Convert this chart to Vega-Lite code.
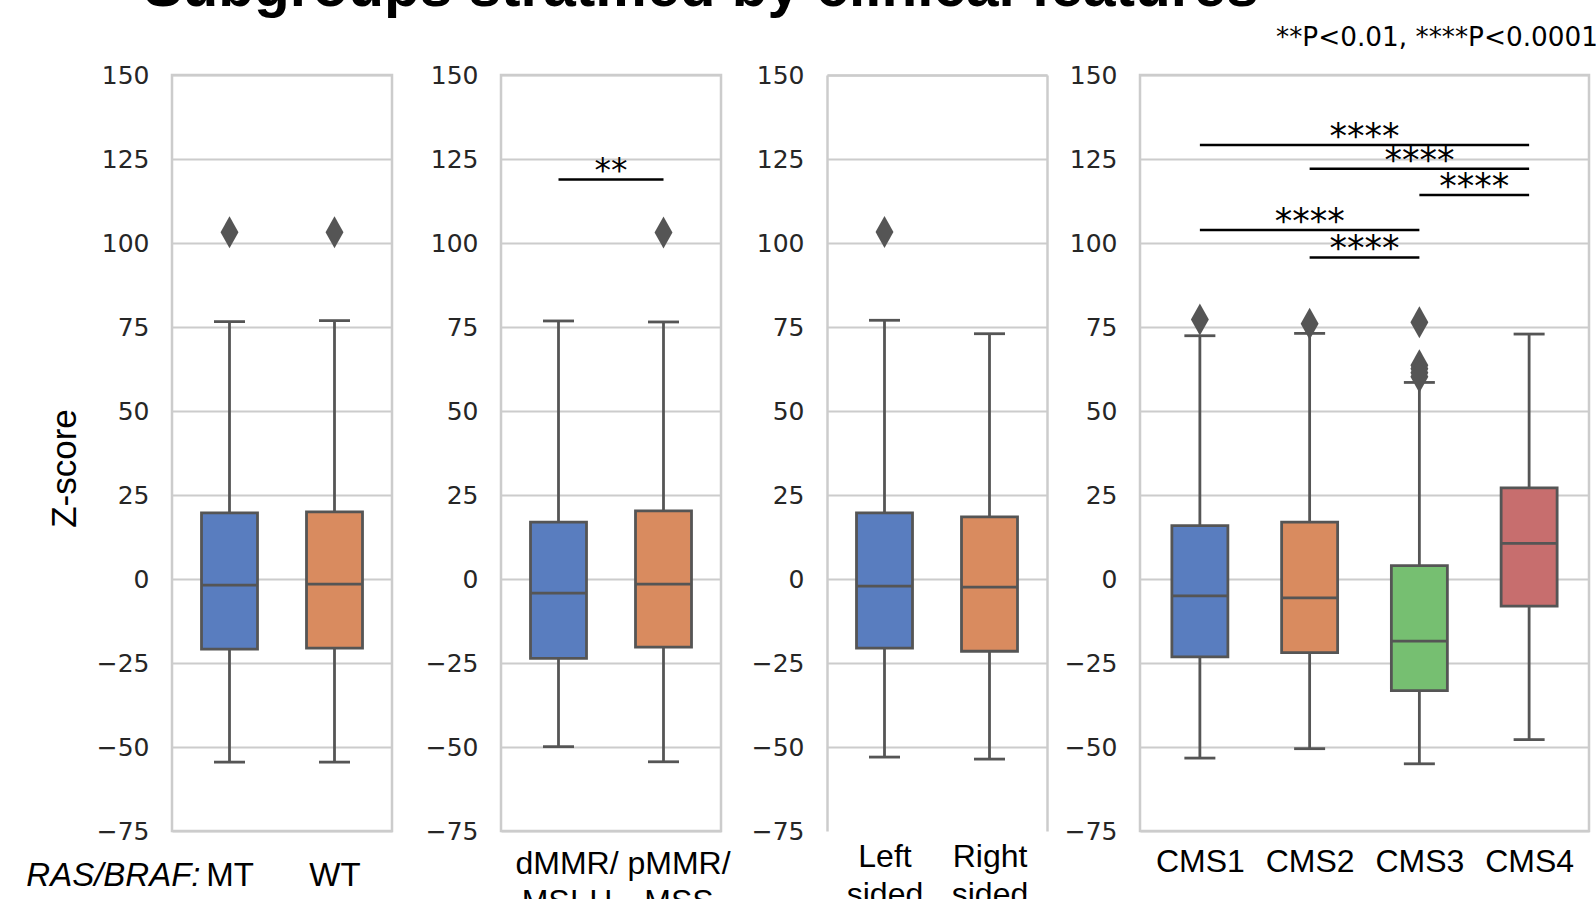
{
  "$schema": "https://vega.github.io/schema/vega-lite/v6.json",
  "background": "white",
  "padding": {"left": 24, "top": -42, "right": 0, "bottom": 0},
  "title": {"text": "Subgroups stratified by clinical features", "anchor": "start", "font": "Liberation Sans", "fontSize": 58.5, "fontWeight": "bold", "color": "black", "baseline": "alphabetic", "offset": -41, "dx": 119},
  "datasets": {
    "box": [
      {"panel": "ras", "grp": "MT", "lower": -54.5, "q1": -20.9, "median": -1.8, "q3": 19.7, "upper": 76.6},
      {"panel": "ras", "grp": "WT", "lower": -54.5, "q1": -20.6, "median": -1.5, "q3": 20.0, "upper": 76.9},
      {"panel": "mmr", "grp": "dMMR/MSI-H", "lower": -49.9, "q1": -23.6, "median": -4.2, "q3": 16.9, "upper": 76.8},
      {"panel": "mmr", "grp": "pMMR/MSS", "lower": -54.4, "q1": -20.3, "median": -1.5, "q3": 20.3, "upper": 76.5},
      {"panel": "side", "grp": "Left sided", "lower": -53.0, "q1": -20.6, "median": -2.1, "q3": 19.7, "upper": 77.0},
      {"panel": "side", "grp": "Right sided", "lower": -53.6, "q1": -21.5, "median": -2.4, "q3": 18.5, "upper": 73.0},
      {"panel": "cms", "grp": "CMS1", "lower": -53.3, "q1": -23.2, "median": -5.0, "q3": 15.9, "upper": 72.4},
      {"panel": "cms", "grp": "CMS2", "lower": -50.5, "q1": -21.9, "median": -5.6, "q3": 16.9, "upper": 73.1},
      {"panel": "cms", "grp": "CMS3", "lower": -55.0, "q1": -33.2, "median": -18.5, "q3": 4.0, "upper": 58.5},
      {"panel": "cms", "grp": "CMS4", "lower": -47.8, "q1": -8.1, "median": 10.6, "q3": 27.1, "upper": 72.9}
    ],
    "out": [
      {"panel": "ras", "grp": "MT", "z": 103.2},
      {"panel": "ras", "grp": "WT", "z": 103.2},
      {"panel": "mmr", "grp": "pMMR/MSS", "z": 103.1},
      {"panel": "side", "grp": "Left sided", "z": 103.3},
      {"panel": "cms", "grp": "CMS1", "z": 77.2},
      {"panel": "cms", "grp": "CMS2", "z": 76.0},
      {"panel": "cms", "grp": "CMS3", "z": 76.4},
      {"panel": "cms", "grp": "CMS3", "z": 63.6},
      {"panel": "cms", "grp": "CMS3", "z": 62.6},
      {"panel": "cms", "grp": "CMS3", "z": 61.4},
      {"panel": "cms", "grp": "CMS3", "z": 60.2}
    ],
    "br": [
      {"panel": "mmr", "from": "dMMR/MSI-H", "to": "pMMR/MSS", "y": 118.9, "label": "**"},
      {"panel": "cms", "from": "CMS1", "to": "CMS4", "y": 129.2, "label": "****"},
      {"panel": "cms", "from": "CMS2", "to": "CMS4", "y": 122.1, "label": "****"},
      {"panel": "cms", "from": "CMS3", "to": "CMS4", "y": 114.3, "label": "****"},
      {"panel": "cms", "from": "CMS1", "to": "CMS3", "y": 103.9, "label": "****"},
      {"panel": "cms", "from": "CMS2", "to": "CMS3", "y": 95.7, "label": "****"}
    ]
  },
  "spacing": 10,
  "resolve": {"scale": {"x": "independent", "y": "independent", "color": "independent"}},
  "hconcat": [
    {
      "width": 220, "height": 756,
      "layer": [
        {
          "data": {"name": "box"},
          "transform": [{"filter": "datum.panel === 'ras'"}, {"calculate": "indexof(['MT','WT'], datum.grp)", "as": "i"}],
          "encoding": {
            "x": {"field": "i", "type": "quantitative", "scale": {"domain": [-0.5, 1.5], "nice": false, "zero": false},
                  "axis": {"values": [0, 1], "labelExpr": "['MT','WT'][datum.value]", "labelFontSize": 33, "labelPadding": 28, "title": "RAS/BRAF:", "titleFont": "Liberation Sans", "titleFontSize": 33, "titleFontStyle": "italic", "titleFontWeight": "normal", "titleColor": "black", "titleX": 28, "titleY": 54, "titleAlign": "right", "titleBaseline": "alphabetic"}}
          },
          "layer": [
            {"mark": {"type": "rule", "color": "#555555", "strokeWidth": 2.8},
             "encoding": {"y": {"field": "lower", "type": "quantitative", "scale": {"domain": [-75, 150], "nice": false, "zero": false}, "axis": {"values": [-75, -50, -25, 0, 25, 50, 75, 100, 125, 150], "title": "Z-score", "titleFont": "Liberation Sans", "titleFontSize": 35, "titleFontWeight": "normal", "titleColor": "black", "titleX": -97, "titleY": 393, "titleAlign": "center", "titleBaseline": "alphabetic", "titleAngle": 270}}, "y2": {"field": "upper"}}},
            {"mark": {"type": "bar", "width": 56, "stroke": "#555555", "strokeWidth": 2.8},
             "encoding": {"y": {"field": "q1", "type": "quantitative", "axis": {"values": [-75, -50, -25, 0, 25, 50, 75, 100, 125, 150], "title": "Z-score", "titleFont": "Liberation Sans", "titleFontSize": 35, "titleFontWeight": "normal", "titleColor": "black", "titleX": -97, "titleY": 393, "titleAlign": "center", "titleBaseline": "alphabetic", "titleAngle": 270}}, "y2": {"field": "q3"},
                          "color": {"field": "grp", "type": "nominal", "scale": {"domain": ["MT", "WT"], "range": ["#597dbf", "#d98b5f"]}, "legend": null}}},
            {"mark": {"type": "tick", "orient": "horizontal", "size": 56, "thickness": 2.8, "color": "#555555", "opacity": 1},
             "encoding": {"y": {"field": "median", "type": "quantitative", "axis": {"values": [-75, -50, -25, 0, 25, 50, 75, 100, 125, 150], "title": "Z-score", "titleFont": "Liberation Sans", "titleFontSize": 35, "titleFontWeight": "normal", "titleColor": "black", "titleX": -97, "titleY": 393, "titleAlign": "center", "titleBaseline": "alphabetic", "titleAngle": 270}}}},
            {"mark": {"type": "tick", "orient": "horizontal", "size": 31, "thickness": 2.8, "color": "#555555", "opacity": 1},
             "encoding": {"y": {"field": "lower", "type": "quantitative", "axis": {"values": [-75, -50, -25, 0, 25, 50, 75, 100, 125, 150], "title": "Z-score", "titleFont": "Liberation Sans", "titleFontSize": 35, "titleFontWeight": "normal", "titleColor": "black", "titleX": -97, "titleY": 393, "titleAlign": "center", "titleBaseline": "alphabetic", "titleAngle": 270}}}},
            {"mark": {"type": "tick", "orient": "horizontal", "size": 31, "thickness": 2.8, "color": "#555555", "opacity": 1},
             "encoding": {"y": {"field": "upper", "type": "quantitative", "axis": {"values": [-75, -50, -25, 0, 25, 50, 75, 100, 125, 150], "title": "Z-score", "titleFont": "Liberation Sans", "titleFontSize": 35, "titleFontWeight": "normal", "titleColor": "black", "titleX": -97, "titleY": 393, "titleAlign": "center", "titleBaseline": "alphabetic", "titleAngle": 270}}}}
          ]
        },
        {
          "data": {"name": "out"},
          "transform": [{"filter": "datum.panel === 'ras'"}, {"calculate": "indexof(['MT','WT'], datum.grp)", "as": "i"}],
          "mark": {"type": "point", "shape": "M0,-1L0.56,0L0,1L-0.56,0Z", "filled": true, "size": 1024, "color": "#555555", "opacity": 1},
          "encoding": {
            "x": {"field": "i", "type": "quantitative", "axis": {"values": [0, 1], "labelExpr": "['MT','WT'][datum.value]", "labelFontSize": 33, "labelPadding": 28, "title": "RAS/BRAF:", "titleFont": "Liberation Sans", "titleFontSize": 33, "titleFontStyle": "italic", "titleFontWeight": "normal", "titleColor": "black", "titleX": 28, "titleY": 54, "titleAlign": "right", "titleBaseline": "alphabetic"}},
            "y": {"field": "z", "type": "quantitative", "axis": {"values": [-75, -50, -25, 0, 25, 50, 75, 100, 125, 150], "title": "Z-score", "titleFont": "Liberation Sans", "titleFontSize": 35, "titleFontWeight": "normal", "titleColor": "black", "titleX": -97, "titleY": 393, "titleAlign": "center", "titleBaseline": "alphabetic", "titleAngle": 270}}
          }
        }
      ]
    },
    {
      "width": 220, "height": 756,
      "layer": [
        {
          "data": {"name": "box"},
          "transform": [{"filter": "datum.panel === 'mmr'"}, {"calculate": "indexof(['dMMR/MSI-H','pMMR/MSS'], datum.grp)", "as": "i"}],
          "encoding": {
            "x": {"field": "i", "type": "quantitative", "scale": {"domain": [-0.5, 1.5], "nice": false, "zero": false},
                  "axis": {"values": [0, 1], "labelExpr": "[['dMMR/','MSI-H'],['pMMR/','MSS']][datum.value]", "labelPadding": 17, "labelOffset": {"condition": {"test": "datum.value === 0", "value": 8}, "value": 15}, "title": null}}
          },
          "layer": [
            {"mark": {"type": "rule", "color": "#555555", "strokeWidth": 2.8},
             "encoding": {"y": {"field": "lower", "type": "quantitative", "scale": {"domain": [-75, 150], "nice": false, "zero": false}, "axis": {"values": [-75, -50, -25, 0, 25, 50, 75, 100, 125, 150], "title": null, "minExtent": 95, "maxExtent": 95}}, "y2": {"field": "upper"}}},
            {"mark": {"type": "bar", "width": 56, "stroke": "#555555", "strokeWidth": 2.8},
             "encoding": {"y": {"field": "q1", "type": "quantitative", "axis": {"values": [-75, -50, -25, 0, 25, 50, 75, 100, 125, 150], "title": null, "minExtent": 95, "maxExtent": 95}}, "y2": {"field": "q3"},
                          "color": {"field": "grp", "type": "nominal", "scale": {"domain": ["dMMR/MSI-H", "pMMR/MSS"], "range": ["#597dbf", "#d98b5f"]}, "legend": null}}},
            {"mark": {"type": "tick", "orient": "horizontal", "size": 56, "thickness": 2.8, "color": "#555555", "opacity": 1},
             "encoding": {"y": {"field": "median", "type": "quantitative", "axis": {"values": [-75, -50, -25, 0, 25, 50, 75, 100, 125, 150], "title": null, "minExtent": 95, "maxExtent": 95}}}},
            {"mark": {"type": "tick", "orient": "horizontal", "size": 31, "thickness": 2.8, "color": "#555555", "opacity": 1},
             "encoding": {"y": {"field": "lower", "type": "quantitative", "axis": {"values": [-75, -50, -25, 0, 25, 50, 75, 100, 125, 150], "title": null, "minExtent": 95, "maxExtent": 95}}}},
            {"mark": {"type": "tick", "orient": "horizontal", "size": 31, "thickness": 2.8, "color": "#555555", "opacity": 1},
             "encoding": {"y": {"field": "upper", "type": "quantitative", "axis": {"values": [-75, -50, -25, 0, 25, 50, 75, 100, 125, 150], "title": null, "minExtent": 95, "maxExtent": 95}}}}
          ]
        },
        {
          "data": {"name": "out"},
          "transform": [{"filter": "datum.panel === 'mmr'"}, {"calculate": "indexof(['dMMR/MSI-H','pMMR/MSS'], datum.grp)", "as": "i"}],
          "mark": {"type": "point", "shape": "M0,-1L0.56,0L0,1L-0.56,0Z", "filled": true, "size": 1024, "color": "#555555", "opacity": 1},
          "encoding": {
            "x": {"field": "i", "type": "quantitative", "axis": {"values": [0, 1], "labelExpr": "[['dMMR/','MSI-H'],['pMMR/','MSS']][datum.value]", "labelPadding": 17, "labelOffset": {"condition": {"test": "datum.value === 0", "value": 8}, "value": 15}, "title": null}},
            "y": {"field": "z", "type": "quantitative", "axis": {"values": [-75, -50, -25, 0, 25, 50, 75, 100, 125, 150], "title": null, "minExtent": 95, "maxExtent": 95}}
          }
        },
        {
          "data": {"name": "br"},
          "transform": [{"filter": "datum.panel === 'mmr'"},
                        {"calculate": "indexof(['dMMR/MSI-H','pMMR/MSS'], datum.from)", "as": "fi"},
                        {"calculate": "indexof(['dMMR/MSI-H','pMMR/MSS'], datum.to)", "as": "ti"},
                        {"calculate": "(datum.fi + datum.ti) / 2", "as": "mid"}],
          "layer": [
            {"mark": {"type": "rule", "color": "black", "strokeWidth": 2.5},
             "encoding": {"x": {"field": "fi", "type": "quantitative", "axis": {"values": [0, 1], "labelExpr": "[['dMMR/','MSI-H'],['pMMR/','MSS']][datum.value]", "labelPadding": 17, "labelOffset": {"condition": {"test": "datum.value === 0", "value": 8}, "value": 15}, "title": null}}, "x2": {"field": "ti"},
                          "y": {"field": "y", "type": "quantitative", "axis": {"values": [-75, -50, -25, 0, 25, 50, 75, 100, 125, 150], "title": null, "minExtent": 95, "maxExtent": 95}}}},
            {"mark": {"type": "text", "font": "DejaVu Sans", "fontSize": 33, "baseline": "alphabetic", "align": "center", "dy": 3, "color": "black"},
             "encoding": {"x": {"field": "mid", "type": "quantitative", "axis": {"values": [0, 1], "labelExpr": "[['dMMR/','MSI-H'],['pMMR/','MSS']][datum.value]", "labelPadding": 17, "labelOffset": {"condition": {"test": "datum.value === 0", "value": 8}, "value": 15}, "title": null}},
                          "y": {"field": "y", "type": "quantitative", "axis": {"values": [-75, -50, -25, 0, 25, 50, 75, 100, 125, 150], "title": null, "minExtent": 95, "maxExtent": 95}},
                          "text": {"field": "label"}}}
          ]
        }
      ]
    },
    {
      "width": 220, "height": 756,
      "view": {"stroke": null},
      "resolve": {"axis": {"x": "independent", "y": "independent"}},
      "layer": [
        {
          "data": {"name": "box"},
          "transform": [{"filter": "datum.panel === 'side'"}, {"calculate": "indexof(['Left sided','Right sided'], datum.grp)", "as": "i"}],
          "encoding": {
            "x": {"field": "i", "type": "quantitative", "scale": {"domain": [-0.5, 1.5], "nice": false, "zero": false},
                  "axis": {"values": [0, 1], "labelExpr": "[['Left','sided'],['Right','sided']][datum.value]", "labelPadding": 10, "title": null}}
          },
          "layer": [
            {"mark": {"type": "rule", "color": "#555555", "strokeWidth": 2.8},
             "encoding": {"y": {"field": "lower", "type": "quantitative", "scale": {"domain": [-75, 150], "nice": false, "zero": false}, "axis": {"values": [-75, -50, -25, 0, 25, 50, 75, 100, 125, 150], "title": null, "grid": false, "domain": true, "domainColor": "#cccccc", "domainWidth": 2.5, "minExtent": 85, "maxExtent": 85}}, "y2": {"field": "upper"}}},
            {"mark": {"type": "bar", "width": 56, "stroke": "#555555", "strokeWidth": 2.8},
             "encoding": {"y": {"field": "q1", "type": "quantitative", "axis": {"values": [-75, -50, -25, 0, 25, 50, 75, 100, 125, 150], "title": null, "grid": false, "domain": true, "domainColor": "#cccccc", "domainWidth": 2.5, "minExtent": 85, "maxExtent": 85}}, "y2": {"field": "q3"},
                          "color": {"field": "grp", "type": "nominal", "scale": {"domain": ["Left sided", "Right sided"], "range": ["#597dbf", "#d98b5f"]}, "legend": null}}},
            {"mark": {"type": "tick", "orient": "horizontal", "size": 56, "thickness": 2.8, "color": "#555555", "opacity": 1},
             "encoding": {"y": {"field": "median", "type": "quantitative", "axis": {"values": [-75, -50, -25, 0, 25, 50, 75, 100, 125, 150], "title": null, "grid": false, "domain": true, "domainColor": "#cccccc", "domainWidth": 2.5, "minExtent": 85, "maxExtent": 85}}}},
            {"mark": {"type": "tick", "orient": "horizontal", "size": 31, "thickness": 2.8, "color": "#555555", "opacity": 1},
             "encoding": {"y": {"field": "lower", "type": "quantitative", "axis": {"values": [-75, -50, -25, 0, 25, 50, 75, 100, 125, 150], "title": null, "grid": false, "domain": true, "domainColor": "#cccccc", "domainWidth": 2.5, "minExtent": 85, "maxExtent": 85}}}},
            {"mark": {"type": "tick", "orient": "horizontal", "size": 31, "thickness": 2.8, "color": "#555555", "opacity": 1},
             "encoding": {"y": {"field": "upper", "type": "quantitative", "axis": {"values": [-75, -50, -25, 0, 25, 50, 75, 100, 125, 150], "title": null, "grid": false, "domain": true, "domainColor": "#cccccc", "domainWidth": 2.5, "minExtent": 85, "maxExtent": 85}}}}
          ]
        },
        {
          "data": {"name": "out"},
          "transform": [{"filter": "datum.panel === 'side'"}, {"calculate": "indexof(['Left sided','Right sided'], datum.grp)", "as": "i"}],
          "mark": {"type": "point", "shape": "M0,-1L0.56,0L0,1L-0.56,0Z", "filled": true, "size": 1024, "color": "#555555", "opacity": 1},
          "encoding": {
            "x": {"field": "i", "type": "quantitative", "axis": {"orient": "top", "labels": false, "values": [], "domain": true, "domainColor": "#cccccc", "domainWidth": 2.5, "title": null, "minExtent": 0, "maxExtent": 0}},
            "y": {"field": "z", "type": "quantitative", "axis": {"orient": "right", "labels": false, "values": [-50, -25, 0, 25, 50, 75, 100, 125, 150], "grid": true, "domain": true, "domainColor": "#cccccc", "domainWidth": 2.5, "title": null, "minExtent": 0, "maxExtent": 0}}
          }
        }
      ]
    },
    {
      "width": 449, "height": 756,
      "title": {"text": "**P<0.01, ****P<0.0001", "anchor": "end", "font": "DejaVu Sans", "fontSize": 26.3, "fontWeight": "normal", "color": "black", "baseline": "alphabetic", "offset": -9, "dx": 9},
      "layer": [
        {
          "data": {"name": "box"},
          "transform": [{"filter": "datum.panel === 'cms'"}, {"calculate": "indexof(['CMS1','CMS2','CMS3','CMS4'], datum.grp)", "as": "i"}],
          "encoding": {
            "x": {"field": "i", "type": "quantitative", "scale": {"domain": [-0.5, 3.5], "nice": false, "zero": false},
                  "axis": {"values": [0, 1, 2, 3], "labelExpr": "['CMS1','CMS2','CMS3','CMS4'][datum.value]", "labelPadding": 15, "title": null}}
          },
          "layer": [
            {"mark": {"type": "rule", "color": "#555555", "strokeWidth": 2.8},
             "encoding": {"y": {"field": "lower", "type": "quantitative", "scale": {"domain": [-75, 150], "nice": false, "zero": false}, "axis": {"values": [-75, -50, -25, 0, 25, 50, 75, 100, 125, 150], "title": null, "minExtent": 81, "maxExtent": 81}}, "y2": {"field": "upper"}}},
            {"mark": {"type": "bar", "width": 56, "stroke": "#555555", "strokeWidth": 2.8},
             "encoding": {"y": {"field": "q1", "type": "quantitative", "axis": {"values": [-75, -50, -25, 0, 25, 50, 75, 100, 125, 150], "title": null, "minExtent": 81, "maxExtent": 81}}, "y2": {"field": "q3"},
                          "color": {"field": "grp", "type": "nominal", "scale": {"domain": ["CMS1", "CMS2", "CMS3", "CMS4"], "range": ["#597dbf", "#d98b5f", "#76bf71", "#c76e6e"]}, "legend": null}}},
            {"mark": {"type": "tick", "orient": "horizontal", "size": 56, "thickness": 2.8, "color": "#555555", "opacity": 1},
             "encoding": {"y": {"field": "median", "type": "quantitative", "axis": {"values": [-75, -50, -25, 0, 25, 50, 75, 100, 125, 150], "title": null, "minExtent": 81, "maxExtent": 81}}}},
            {"mark": {"type": "tick", "orient": "horizontal", "size": 31, "thickness": 2.8, "color": "#555555", "opacity": 1},
             "encoding": {"y": {"field": "lower", "type": "quantitative", "axis": {"values": [-75, -50, -25, 0, 25, 50, 75, 100, 125, 150], "title": null, "minExtent": 81, "maxExtent": 81}}}},
            {"mark": {"type": "tick", "orient": "horizontal", "size": 31, "thickness": 2.8, "color": "#555555", "opacity": 1},
             "encoding": {"y": {"field": "upper", "type": "quantitative", "axis": {"values": [-75, -50, -25, 0, 25, 50, 75, 100, 125, 150], "title": null, "minExtent": 81, "maxExtent": 81}}}}
          ]
        },
        {
          "data": {"name": "out"},
          "transform": [{"filter": "datum.panel === 'cms'"}, {"calculate": "indexof(['CMS1','CMS2','CMS3','CMS4'], datum.grp)", "as": "i"}],
          "mark": {"type": "point", "shape": "M0,-1L0.56,0L0,1L-0.56,0Z", "filled": true, "size": 1024, "color": "#555555", "opacity": 1},
          "encoding": {
            "x": {"field": "i", "type": "quantitative", "axis": {"values": [0, 1, 2, 3], "labelExpr": "['CMS1','CMS2','CMS3','CMS4'][datum.value]", "labelPadding": 15, "title": null}},
            "y": {"field": "z", "type": "quantitative", "axis": {"values": [-75, -50, -25, 0, 25, 50, 75, 100, 125, 150], "title": null, "minExtent": 81, "maxExtent": 81}}
          }
        },
        {
          "data": {"name": "br"},
          "transform": [{"filter": "datum.panel === 'cms'"},
                        {"calculate": "indexof(['CMS1','CMS2','CMS3','CMS4'], datum.from)", "as": "fi"},
                        {"calculate": "indexof(['CMS1','CMS2','CMS3','CMS4'], datum.to)", "as": "ti"},
                        {"calculate": "(datum.fi + datum.ti) / 2", "as": "mid"}],
          "layer": [
            {"mark": {"type": "rule", "color": "black", "strokeWidth": 2.5},
             "encoding": {"x": {"field": "fi", "type": "quantitative", "axis": {"values": [0, 1, 2, 3], "labelExpr": "['CMS1','CMS2','CMS3','CMS4'][datum.value]", "labelPadding": 15, "title": null}}, "x2": {"field": "ti"},
                          "y": {"field": "y", "type": "quantitative", "axis": {"values": [-75, -50, -25, 0, 25, 50, 75, 100, 125, 150], "title": null, "minExtent": 81, "maxExtent": 81}}}},
            {"mark": {"type": "text", "font": "DejaVu Sans", "fontSize": 35, "baseline": "alphabetic", "align": "center", "dy": 3, "color": "black"},
             "encoding": {"x": {"field": "mid", "type": "quantitative", "axis": {"values": [0, 1, 2, 3], "labelExpr": "['CMS1','CMS2','CMS3','CMS4'][datum.value]", "labelPadding": 15, "title": null}},
                          "y": {"field": "y", "type": "quantitative", "axis": {"values": [-75, -50, -25, 0, 25, 50, 75, 100, 125, 150], "title": null, "minExtent": 81, "maxExtent": 81}},
                          "text": {"field": "label"}}}
          ]
        }
      ]
    }
  ],
  "config": {
    "view": {"stroke": "#cccccc", "strokeWidth": 2.5},
    "axis": {"domain": false, "ticks": false, "tickSize": 0, "grid": false, "labelFlush": false, "labelOverlap": false},
    "axisY": {"grid": true, "gridColor": "#cccccc", "gridWidth": 2, "labelFont": "DejaVu Sans", "labelFontSize": 25, "labelColor": "#262626", "labelPadding": 23},
    "axisX": {"labelFont": "Liberation Sans", "labelFontSize": 32, "labelColor": "black", "labelLineHeight": 38, "labelAngle": 0}
  }
}
